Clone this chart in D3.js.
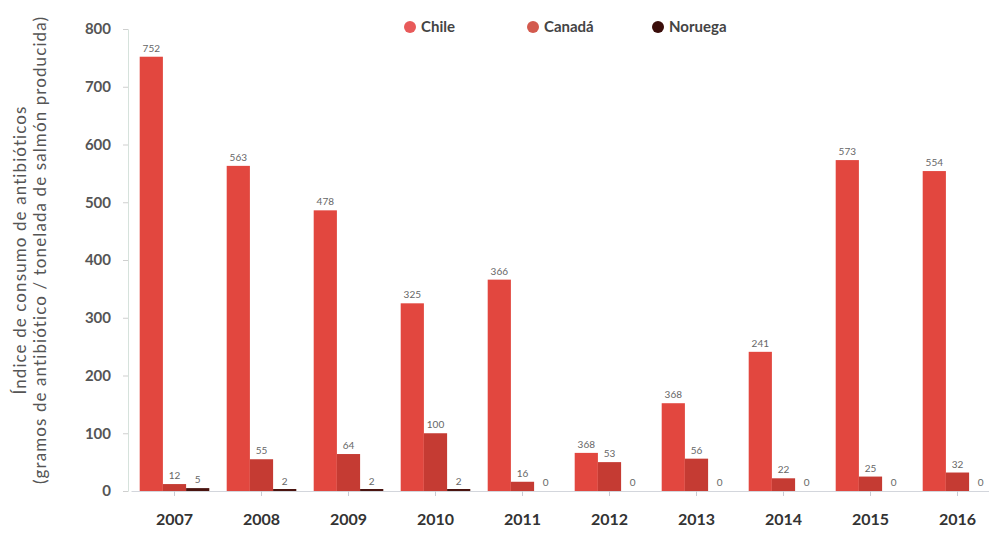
<!DOCTYPE html>
<html>
<head>
<meta charset="utf-8">
<script src="https://cdn.jsdelivr.net/npm/d3@7"></script>
<style>
  body { margin: 0; background: #fff; font-family: Lato, "Open Sans", sans-serif; }
  #chart svg { display: block; }
</style>
</head>
<body>
<div id="chart"></div>
<script>
const anios = ["2007", "2008", "2009", "2010", "2011", "2012", "2013", "2014", "2015", "2016"];
const series = ["Chile", "Canadá", "Noruega"];
const chile = [752, 563, 486, 325, 366, 66, 152, 241, 573, 554];
const canada = [12, 55, 64, 100, 16, 50, 56, 22, 25, 32];
const noruega = [5, 2, 2, 2, 0, 0, 0, 0, 0, 0];
// etiquetas tal como aparecen en el original
const chileLabels = ["752", "563", "478", "325", "366", "368", "368", "241", "573", "554"];
const canadaLabels = ["12", "55", "64", "100", "16", "53", "56", "22", "25", "32"];
const noruegaLabels = ["5", "2", "2", "2", "0", "0", "0", "0", "0", "0"];
const yTicks = [0, 100, 200, 300, 400, 500, 600, 700, 800];

const width = 989, height = 533;
const svg = d3.select("#chart").append("svg")
  .attr("width", width)
  .attr("height", height);

const color = d3.scaleOrdinal()
  .domain(series)
  .range(["#e2473f", "#c53b33", "#4a1410"]);
const legendColor = d3.scaleOrdinal()
  .domain(series)
  .range(["#e85a5a", "#d35a4e", "#3a0d0a"]);

const x = d3.scaleBand().domain(anios).range([131, 1001]).paddingInner(0.2).paddingOuter(0.1);
const xs = d3.scaleBand().domain(series).range([0, x.bandwidth()]);
const y = d3.scaleLinear().domain([0, 800]).range([491, 29]);

const datos = anios.map((a, i) => ({
  anio: a,
  valores: [
    { serie: "Chile", v: chile[i], label: chileLabels[i] },
    { serie: "Canadá", v: canada[i], label: canadaLabels[i] },
    { serie: "Noruega", v: noruega[i], label: noruegaLabels[i] }
  ]
}));

// eje y
const yAxis = svg.append("g")
  .attr("transform", "translate(128,0)")
  .call(d3.axisLeft(y).tickValues(yTicks).tickSize(5).tickPadding(12));
yAxis.select(".domain").attr("stroke", "#d6e2dc");
yAxis.selectAll(".tick line").attr("stroke", "#cfcfcf");
yAxis.selectAll(".tick text")
  .attr("fill", "#555")
  .style("font-family", "Lato")
  .style("font-weight", "bold")
  .style("font-size", "15px");

// eje x
const xAxis = svg.append("g")
  .attr("transform", `translate(0,${y(0)})`)
  .call(d3.axisBottom(x).tickSize(5).tickPadding(18).tickSizeOuter(0));
xAxis.select(".domain").attr("stroke", "#d3d6dc");
xAxis.selectAll(".tick line").attr("stroke", "#c9ccd4");
xAxis.selectAll(".tick text")
  .attr("fill", "#333")
  .style("font-family", "Lato")
  .style("font-weight", "bold")
  .style("font-size", "16px");

// barras
const grupos = svg.selectAll("g.anio")
  .data(datos)
  .enter()
  .append("g")
  .attr("class", "anio")
  .attr("transform", d => `translate(${x(d.anio)},0)`);

grupos.selectAll("rect")
  .data(d => d.valores)
  .enter()
  .append("rect")
  .attr("x", d => xs(d.serie))
  .attr("width", xs.bandwidth())
  .attr("y", d => Math.min(y(d.v), y(0) - 2))
  .attr("height", d => Math.max(y(0) - y(d.v), d.serie === "Noruega" && d.v > 0 ? 2 : 0))
  .attr("fill", d => color(d.serie));

grupos.selectAll("text.valor")
  .data(d => d.valores)
  .enter()
  .append("text")
  .attr("class", "valor")
  .attr("x", d => xs(d.serie) + xs.bandwidth() / 2)
  .attr("y", d => y(d.v) - 5)
  .attr("text-anchor", "middle")
  .attr("fill", "#666")
  .style("font-family", "Lato")
  .style("font-size", "10px")
  .text(d => d.label);

// título eje y
const yTitle = svg.append("text")
  .attr("transform", "translate(26,250) rotate(-90)")
  .attr("text-anchor", "middle")
  .attr("fill", "#555")
  .style("font-family", "Lato")
  .style("font-size", "17px")
  .style("letter-spacing", "1.1px");
yTitle.append("tspan").attr("x", 0).attr("dy", 0).text("Índice de consumo de antibióticos");
yTitle.append("tspan").attr("x", 0).attr("dy", 20).text("(gramos de antibiótico / tonelada de salmón producida)");

// leyenda
const legendX = [410, 533, 658];
const legend = svg.selectAll("g.legend")
  .data(series)
  .enter()
  .append("g")
  .attr("class", "legend")
  .attr("transform", (d, i) => `translate(${legendX[i]},27)`);
legend.append("circle").attr("r", 6).attr("fill", d => legendColor(d));
legend.append("text")
  .attr("x", 11)
  .attr("dy", "0.35em")
  .attr("fill", "#444")
  .style("font-family", "Lato")
  .style("font-weight", "bold")
  .style("font-size", "15px")
  .text(d => d);
</script>
</body>
</html>
